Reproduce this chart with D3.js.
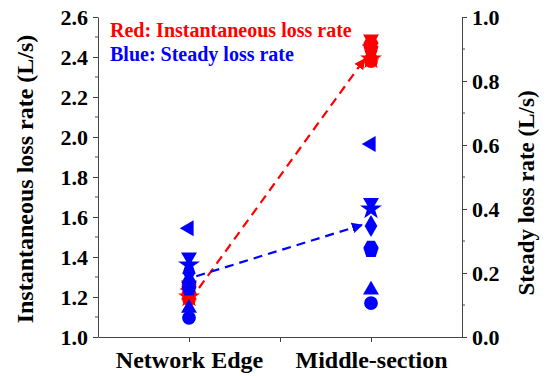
<!DOCTYPE html>
<html>
<head>
<meta charset="utf-8">
<script src="https://cdn.jsdelivr.net/npm/d3@7"></script>
<style>
  body { margin: 0; background: #fff; }
  text { font-family: "Liberation Serif", "Times New Roman", serif; font-weight: bold; }
</style>
</head>
<body>
<section></section>
<script>
const categories = ["Network Edge", "Middle-section"];
const shapes = ["circle", "triUp", "triDown", "triLeft", "diamond", "star", "hexagon", "pentagon"];
// instantaneous loss rate (left axis), one value per shape
const redEdge = [1.19, 1.21, 1.26, 1.24, 1.23, 1.20, 1.22, 1.25];
const redMiddle = [2.38, 2.41, 2.49, 2.46, 2.43, 2.39, 2.47, 2.44];
// steady loss rate (right axis)
const blueEdge = [0.06, 0.09, 0.25, 0.34, 0.2, 0.225, 0.17, 0.15];
const blueMiddle = [0.106, 0.147, 0.42, 0.603, 0.347, 0.40, 0.28, 0.27];
// mean arrows: [x, y] in category units
const redArrow = [[1.055, 1.245], [1.965, 2.39]];
const blueArrow = [[1.04, 0.19], [1.95, 0.35]];
const leftTicks = [1.0, 1.2, 1.4, 1.6, 1.8, 2.0, 2.2, 2.4, 2.6];
const rightTicks = [0.0, 0.2, 0.4, 0.6, 0.8, 1.0];

const W = 550, H = 376;
const svg = d3.select("section").append("svg").attr("width", W).attr("height", H);

const x = d3.scaleLinear().domain([0.5, 2.5]).range([98, 462]);
const yL = d3.scaleLinear().domain([1.0, 2.6]).range([337, 17]);
const yR = d3.scaleLinear().domain([0.0, 1.0]).range([337, 17]);

function polygon(n, rot) {
  return {
    draw(ctx, size) {
      const r = Math.sqrt(size / (n * Math.sin(2 * Math.PI / n) / 2));
      for (let i = 0; i < n; i++) {
        const a = rot + (i * 2 * Math.PI) / n;
        const px = r * Math.sin(a), py = -r * Math.cos(a);
        if (i === 0) ctx.moveTo(px, py); else ctx.lineTo(px, py);
      }
      ctx.closePath();
    }
  };
}
const symbolTypes = {
  circle: [d3.symbolCircle, 150],
  triUp: [polygon(3, 0), 110],
  triDown: [polygon(3, Math.PI), 110],
  triLeft: [polygon(3, -Math.PI / 2), 110],
  diamond: [d3.symbolDiamond, 140],
  star: [d3.symbolStar, 150],
  hexagon: [polygon(6, Math.PI / 6), 150],
  pentagon: [polygon(5, 0), 150]
};

function drawPoints(values, cat, yScale, color) {
  svg.append("g")
    .selectAll("path")
    .data(values)
    .enter()
    .append("path")
    .attr("d", (d, i) => d3.symbol().type(symbolTypes[shapes[i]][0]).size(symbolTypes[shapes[i]][1])())
    .attr("transform", (d) => `translate(${x(cat + 1)}, ${yScale(d)})`)
    .style("fill", color);
}

// arrow heads
const defs = svg.append("defs");
["red", "blue"].forEach((c) => {
  defs.append("marker")
    .attr("id", "arrow-" + c)
    .attr("viewBox", "0 0 10 10")
    .attr("refX", 9).attr("refY", 5)
    .attr("markerWidth", 5).attr("markerHeight", 5)
    .attr("orient", "auto")
    .attr("markerUnits", "strokeWidth")
    .append("path")
    .attr("d", "M0,0L10,5L0,10Z")
    .style("fill", c);
});

drawPoints(redEdge, 0, yL, "#ff0000");
drawPoints(redMiddle, 1, yL, "#ff0000");
drawPoints(blueEdge, 0, yR, "#0000ff");
drawPoints(blueMiddle, 1, yR, "#0000ff");

svg.append("line")
  .attr("x1", x(redArrow[0][0])).attr("y1", yL(redArrow[0][1]))
  .attr("x2", x(redArrow[1][0])).attr("y2", yL(redArrow[1][1]))
  .style("stroke", "red").style("stroke-width", 2.2)
  .style("stroke-dasharray", "9,6")
  .attr("marker-end", "url(#arrow-red)");
svg.append("line")
  .attr("x1", x(blueArrow[0][0])).attr("y1", yR(blueArrow[0][1]))
  .attr("x2", x(blueArrow[1][0])).attr("y2", yR(blueArrow[1][1]))
  .style("stroke", "blue").style("stroke-width", 2.2)
  .style("stroke-dasharray", "9,6")
  .attr("marker-end", "url(#arrow-blue)");

// axes
const axisColor = "#444";
function styleAxis(g) {
  g.selectAll("path, line").style("stroke", axisColor);
  g.selectAll("text").style("font-size", "22px").style("fill", "#000");
}

const gLeft = svg.append("g").attr("transform", "translate(98,0)")
  .call(d3.axisLeft(yL).tickValues(leftTicks).tickFormat(d3.format(".1f")).tickSize(5).tickSizeOuter(0).tickPadding(5));
gLeft.append("g").selectAll("line")
  .data(leftTicks.slice(0, -1).map((d) => d + 0.1))
  .enter().append("line")
  .attr("x1", -3).attr("x2", 0).attr("y1", (d) => yL(d)).attr("y2", (d) => yL(d));
styleAxis(gLeft);
gLeft.selectAll(".tick text").attr("dy", "0.36em");

const gRight = svg.append("g").attr("transform", "translate(462,0)")
  .call(d3.axisRight(yR).tickValues(rightTicks).tickFormat(d3.format(".1f")).tickSize(5).tickSizeOuter(0).tickPadding(5));
gRight.append("g").selectAll("line")
  .data(rightTicks.slice(0, -1).map((d) => d + 0.1))
  .enter().append("line")
  .attr("x1", 0).attr("x2", 3).attr("y1", (d) => yR(d)).attr("y2", (d) => yR(d));
styleAxis(gRight);
gRight.selectAll(".tick text").attr("dy", "0.36em");

const gBottom = svg.append("g").attr("transform", "translate(0,337)")
  .call(d3.axisBottom(x).tickValues([1, 1.5, 2]).tickFormat((d) => (d % 1 === 0 ? categories[d - 1] : "")).tickSize(5).tickSizeOuter(0).tickPadding(6));
styleAxis(gBottom);
gBottom.selectAll(".tick text").style("font-size", "24px").attr("dy", "0.85em");

// axis titles
svg.append("text")
  .attr("transform", `translate(33, ${yL(1.8) + 2}) rotate(-90)`)
  .attr("text-anchor", "middle")
  .style("font-size", "24px")
  .text("Instantaneous loss rate (L/s)");
svg.append("text")
  .attr("transform", `translate(534, ${yR(0.5) + 16}) rotate(-90)`)
  .attr("text-anchor", "middle")
  .style("font-size", "23px")
  .text("Steady loss rate (L/s)");

// legend notes
svg.append("text").attr("x", 110).attr("y", 37)
  .style("font-size", "20px").style("fill", "#ff0000")
  .text("Red: Instantaneous loss rate");
svg.append("text").attr("x", 110).attr("y", 61)
  .style("font-size", "20px").style("fill", "#0000ff")
  .text("Blue: Steady loss rate");
</script>
</body>
</html>
